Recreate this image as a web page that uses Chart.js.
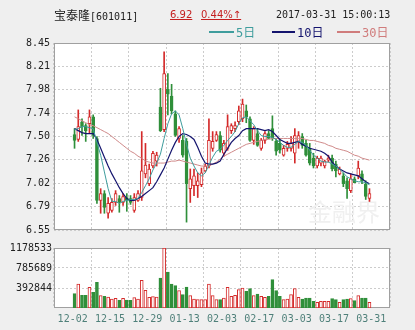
<!DOCTYPE html>
<html>
<head>
<meta charset="utf-8">
<title>宝泰隆 601011</title>
<script src="https://cdn.jsdelivr.net/npm/chart.js@4.4.1/dist/chart.umd.min.js"></script>
<style>
html,body{margin:0;padding:0;}
body{width:415px;height:330px;background:#efefef;position:relative;overflow:hidden;
  font-family:"DejaVu Sans Mono","Noto Sans CJK SC",monospace;font-size:10px;color:#222;}
canvas{position:absolute;left:0;}
#main{top:0;}
#vol{top:240px;}
.t{position:absolute;white-space:nowrap;line-height:14px;}
.ln{position:absolute;height:2px;}
.cjk{font-family:"Noto Sans CJK SC";font-size:12px;}
.q{font-family:"DejaVu Sans";font-size:10px;color:#c41e1e;text-decoration:underline;}
</style>
</head>
<body>
<canvas id="main" width="415" height="240"></canvas>
<canvas id="vol" width="415" height="90"></canvas>

<div class="t" style="left:54px;top:8px;"><span class="cjk">宝泰隆</span>[601011]</div>
<div class="t q" style="left:170px;top:8px;">6.92</div>
<div class="t q" style="left:201px;top:8px;">0.44%↑</div>
<div class="t" style="left:276px;top:8px;">2017-03-31 15:00:13</div>

<div class="ln" style="left:209px;top:31px;width:25px;background:#3f9d9d"></div>
<div class="t" style="left:236px;top:25px;color:#3f9d9d;font-size:12px">5<span class="cjk">日</span></div>
<div class="ln" style="left:272px;top:31px;width:23px;background:#14146e"></div>
<div class="t" style="left:297px;top:25px;color:#14146e;font-size:12px">10<span class="cjk">日</span></div>
<div class="ln" style="left:337px;top:31px;width:23px;background:#d07c7c"></div>
<div class="t" style="left:362px;top:25px;color:#d07c7c;font-size:12px">30<span class="cjk">日</span></div>

<script>
/* ======================
   DATA
====================== */
const days = ["12-02","12-05","12-06","12-07","12-08","12-09","12-12","12-13","12-14","12-15",
  "12-16","12-19","12-20","12-21","12-22","12-23","12-26","12-27","12-28","12-29",
  "12-30","01-03","01-04","01-05","01-06","01-09","01-10","01-11","01-12","01-13",
  "01-16","01-17","01-18","01-19","01-20","01-23","01-24","01-25","01-26","02-03",
  "02-06","02-07","02-08","02-09","02-10","02-13","02-14","02-15","02-16","02-17",
  "02-20","02-21","02-22","02-23","02-24","02-27","02-28","03-01","03-02","03-03",
  "03-06","03-07","03-08","03-09","03-10","03-13","03-14","03-15","03-16","03-17",
  "03-20","03-21","03-22","03-23","03-24","03-27","03-28","03-29","03-30","03-31"];

const open = [7.52,7.47,7.65,7.61,7.63,7.70,7.48,6.85,6.92,6.72,
  6.75,6.83,6.87,6.83,6.88,6.87,6.75,6.85,6.88,7.12,
  7.02,7.20,7.25,7.80,7.57,7.98,7.91,7.73,7.48,7.46,
  7.45,6.97,7.00,7.00,7.01,7.15,7.20,7.38,7.46,7.51,
  7.33,7.38,7.56,7.58,7.65,7.68,7.76,7.68,7.46,7.53,
  7.38,7.46,7.53,7.58,7.45,7.43,7.31,7.38,7.38,7.33,
  7.45,7.50,7.43,7.38,7.28,7.20,7.23,7.20,7.26,7.28,
  7.22,7.12,7.10,7.05,6.95,7.07,7.10,7.12,7.02,6.87];
const high = [7.58,7.77,7.68,7.63,7.77,7.72,7.50,6.97,6.95,6.88,
  6.87,6.95,6.90,6.92,6.92,6.90,6.92,6.95,7.55,7.43,
  7.22,7.35,7.34,7.99,8.36,8.14,8.03,7.76,7.60,7.51,
  7.48,7.17,7.17,7.13,7.18,7.22,7.68,7.55,7.55,7.55,
  7.46,7.72,7.63,7.65,7.81,7.88,7.82,7.70,7.60,7.58,
  7.48,7.55,7.56,7.71,7.48,7.48,7.41,7.45,7.50,7.58,
  7.55,7.53,7.46,7.43,7.33,7.30,7.30,7.26,7.31,7.31,
  7.25,7.19,7.13,7.08,7.12,7.09,7.25,7.15,7.05,6.97];
const low = [7.38,7.45,7.51,7.45,7.53,7.48,6.82,6.72,6.72,6.67,
  6.73,6.80,6.73,6.80,6.74,6.81,6.73,6.84,6.85,7.08,
  7.00,7.18,7.20,7.55,7.55,7.72,7.73,7.50,7.44,7.29,
  6.63,6.83,6.90,6.88,6.99,7.14,7.18,7.35,7.45,7.34,
  7.30,7.36,7.53,7.55,7.62,7.65,7.64,7.45,7.42,7.40,
  7.36,7.43,7.48,7.46,7.31,7.33,7.30,7.35,7.35,7.23,
  7.38,7.38,7.30,7.21,7.18,7.18,7.20,7.18,7.24,7.15,
  7.09,7.11,6.99,6.87,6.93,7.03,7.07,7.02,6.86,6.84];
const close = [7.46,7.60,7.60,7.56,7.70,7.51,6.85,6.92,6.78,6.82,
  6.83,6.92,6.83,6.89,6.85,6.83,6.88,6.92,7.15,7.21,
  7.17,7.33,7.31,7.56,8.14,7.93,7.76,7.51,7.58,7.31,
  7.02,7.07,7.10,7.05,7.13,7.20,7.46,7.45,7.52,7.36,
  7.43,7.60,7.61,7.61,7.76,7.83,7.70,7.46,7.58,7.41,
  7.46,7.53,7.48,7.48,7.35,7.36,7.38,7.42,7.43,7.51,
  7.51,7.41,7.31,7.23,7.20,7.28,7.28,7.25,7.28,7.17,
  7.15,7.17,7.02,6.97,7.07,7.03,7.18,7.05,6.89,6.92];

const volume = [281000,471000,249000,249000,406000,308000,504000,242000,229000,216000,
  177000,190000,150000,190000,157000,150000,203000,177000,543000,347000,
  210000,223000,216000,589000,1178533,707000,471000,439000,340000,262000,
  412000,242000,177000,164000,164000,164000,471000,242000,164000,164000,
  196000,406000,229000,249000,360000,393000,327000,380000,242000,275000,
  229000,210000,229000,556000,340000,229000,164000,177000,262000,380000,
  210000,177000,196000,196000,131000,111000,131000,131000,131000,183000,
  164000,111000,164000,177000,183000,144000,242000,196000,196000,111000];

const ma5 = [7.57,7.58,7.60,7.60,7.59,7.58,7.44,7.31,7.14,6.97,
  6.84,6.84,6.82,6.84,6.85,6.86,6.86,6.87,6.93,7.00,
  7.07,7.16,7.23,7.32,7.48,7.63,7.73,7.76,7.72,7.58,
  7.42,7.28,7.20,7.13,7.10,7.13,7.21,7.29,7.35,7.37,
  7.41,7.46,7.50,7.55,7.63,7.69,7.70,7.66,7.62,7.56,
  7.51,7.50,7.50,7.49,7.47,7.44,7.41,7.39,7.39,7.42,
  7.45,7.44,7.41,7.36,7.31,7.28,7.25,7.24,7.24,7.22,
  7.20,7.17,7.13,7.09,7.07,7.05,7.04,7.04,7.03,7.01];
const ma10 = [7.58,7.56,7.54,7.53,7.53,7.53,7.47,7.38,7.29,7.20,
  7.12,7.05,6.98,6.92,6.87,6.85,6.85,6.87,6.89,6.92,
  6.95,6.98,7.04,7.11,7.18,7.27,7.36,7.44,7.50,7.53,
  7.52,7.50,7.47,7.39,7.30,7.23,7.22,7.22,7.23,7.25,
  7.32,7.38,7.44,7.48,7.51,7.56,7.58,7.58,7.58,7.58,
  7.57,7.56,7.57,7.55,7.51,7.47,7.45,7.43,7.43,7.44,
  7.45,7.42,7.40,7.38,7.37,7.36,7.35,7.33,7.30,7.24,
  7.20,7.17,7.15,7.13,7.12,7.11,7.10,7.07,7.04,7.02];
const ma30 = [7.70,7.68,7.66,7.64,7.62,7.61,7.59,7.57,7.55,7.53,
  7.50,7.47,7.44,7.41,7.38,7.35,7.33,7.30,7.28,7.25,
  7.24,7.23,7.23,7.23,7.23,7.24,7.25,7.25,7.26,7.25,
  7.24,7.23,7.22,7.21,7.20,7.20,7.20,7.22,7.24,7.27,
  7.30,7.32,7.34,7.36,7.38,7.40,7.42,7.43,7.44,7.45,
  7.46,7.47,7.47,7.48,7.48,7.48,7.48,7.48,7.48,7.48,
  7.48,7.48,7.47,7.46,7.46,7.45,7.44,7.43,7.41,7.40,
  7.38,7.37,7.36,7.35,7.33,7.31,7.30,7.28,7.27,7.26];

const priceLabels = ["6.55","6.79","7.02","7.26","7.50","7.74","7.98","8.21","8.45"];
const volLabels = ["392844","785689","1178533"];

/* ======================
   STYLE
====================== */
const RED = "#d42a2a", GREEN = "#2f8f3a";
const C5 = "#3f9d9d", C10 = "#14146e", C30 = "#d08a8a";
const GRID = "#cccccc", FRAME = "#a0a0a0";
const FONT = {family:"DejaVu Sans Mono", size:10};

const idx = days.map((d,i)=>i);
const up = idx.map(i=>close[i]>=open[i]);
const edge = up.map(u=>u?RED:GREEN);
const fill = up.map(u=>u?"#ffffff":GREEN);

const pMin = Number(priceLabels[0]), pMax = Number(priceLabels[priceLabels.length-1]);
const vMax = Number(volLabels[volLabels.length-1]);

// grid columns: every 10 trading days
const colPos = [];
for(let k=0;k<=days.length;k+=10) colPos.push(k-0.5);

const frame = {
  id:"frame",
  beforeDraw(chart){
    const {ctx, chartArea:a} = chart;
    ctx.save();
    ctx.fillStyle="#ffffff";
    ctx.fillRect(a.left,a.top,a.width,a.height);
    ctx.restore();
  },
  beforeDatasetsDraw(chart){
    const {ctx, chartArea:a} = chart;
    ctx.save();
    if(chart.canvas.id==="main"){
      ctx.fillStyle="#f0f0f0";
      ctx.font="24px 'Noto Sans CJK SC'";
      ctx.fillText("金融界", a.right-82, a.bottom-9);
    }
    ctx.strokeStyle=FRAME;
    ctx.lineWidth=1;
    ctx.strokeRect(Math.round(a.left)+0.5,Math.round(a.top)+0.5,Math.round(a.width)-1,Math.round(a.height)-1);
    ctx.restore();
  }
};

function xAxis(labels){
  return {
    type:"linear", min:-0.5, max:days.length-0.5,
    afterBuildTicks: s => { s.ticks = colPos.map(v=>({value:v})); },
    afterFit: s => { s.height = labels ? 22 : 10; },
    grid:{color:GRID, drawTicks:false},
    border:{display:false, dash:[2,2]},
    ticks:{display:labels, padding:5, color:"#4f807a", font:FONT, maxRotation:0, autoSkip:false,
      callback: v => days[Math.max(0, Math.round(v+0.5)-1)]}
  };
}

const common = {
  responsive:false, animation:false, events:[],
  plugins:{legend:{display:false}, tooltip:{enabled:false}}
};

/* ======================
   PRICE CHART
====================== */
new Chart(document.getElementById("main"), {
  type:"bar",
  data:{datasets:[
    {type:"line", data:ma5.map((v,i)=>({x:i,y:v})), borderColor:C5, borderWidth:1, pointRadius:0, order:0},
    {type:"line", data:ma10.map((v,i)=>({x:i,y:v})), borderColor:C10, borderWidth:1.2, pointRadius:0, order:1},
    {type:"line", data:ma30.map((v,i)=>({x:i,y:v})), borderColor:C30, borderWidth:1, pointRadius:0, order:2},
    {data:idx.map(i=>({x:i,y:[open[i],close[i]]})), backgroundColor:fill, borderColor:edge,
      borderWidth:1, borderSkipped:false, barThickness:3, minBarLength:1, grouped:false, order:3},
    {data:idx.map(i=>({x:i,y:[low[i],high[i]]})), backgroundColor:edge,
      barThickness:1, grouped:false, order:4}
  ]},
  options:{...common,
    layout:{padding:{top:43,right:25,left:0,bottom:0}},
    scales:{
      x:xAxis(false),
      y:{min:pMin, max:pMax,
        afterBuildTicks: s => { s.ticks = priceLabels.map((t,k)=>({value:pMin+k*(pMax-pMin)/(priceLabels.length-1)})); },
        afterFit: s => { s.width = 54; },
        grid:{color:GRID, drawTicks:false},
        border:{display:false, dash:[2,2]},
        ticks:{padding:4, color:"#222", font:FONT, callback:(v,i)=>priceLabels[i]}}
    }
  },
  plugins:[frame]
});

/* ======================
   VOLUME CHART
====================== */
new Chart(document.getElementById("vol"), {
  type:"bar",
  data:{datasets:[
    {data:volume.map((v,i)=>({x:i,y:v})), backgroundColor:fill, borderColor:edge,
      borderWidth:1, borderSkipped:false, barThickness:3, grouped:false}
  ]},
  options:{...common,
    layout:{padding:{top:8,right:25,left:0,bottom:0}},
    scales:{
      x:xAxis(true),
      y:{min:0, max:vMax,
        afterBuildTicks: s => { s.ticks = volLabels.map(t=>({value:Number(t)})); },
        afterFit: s => { s.width = 54; },
        grid:{color:GRID, drawTicks:false},
        border:{display:false, dash:[2,2]},
        ticks:{padding:2, color:"#222", font:FONT, callback:(v,i)=>volLabels[i]}}
    }
  },
  plugins:[frame]
});
</script>
</body>
</html>
